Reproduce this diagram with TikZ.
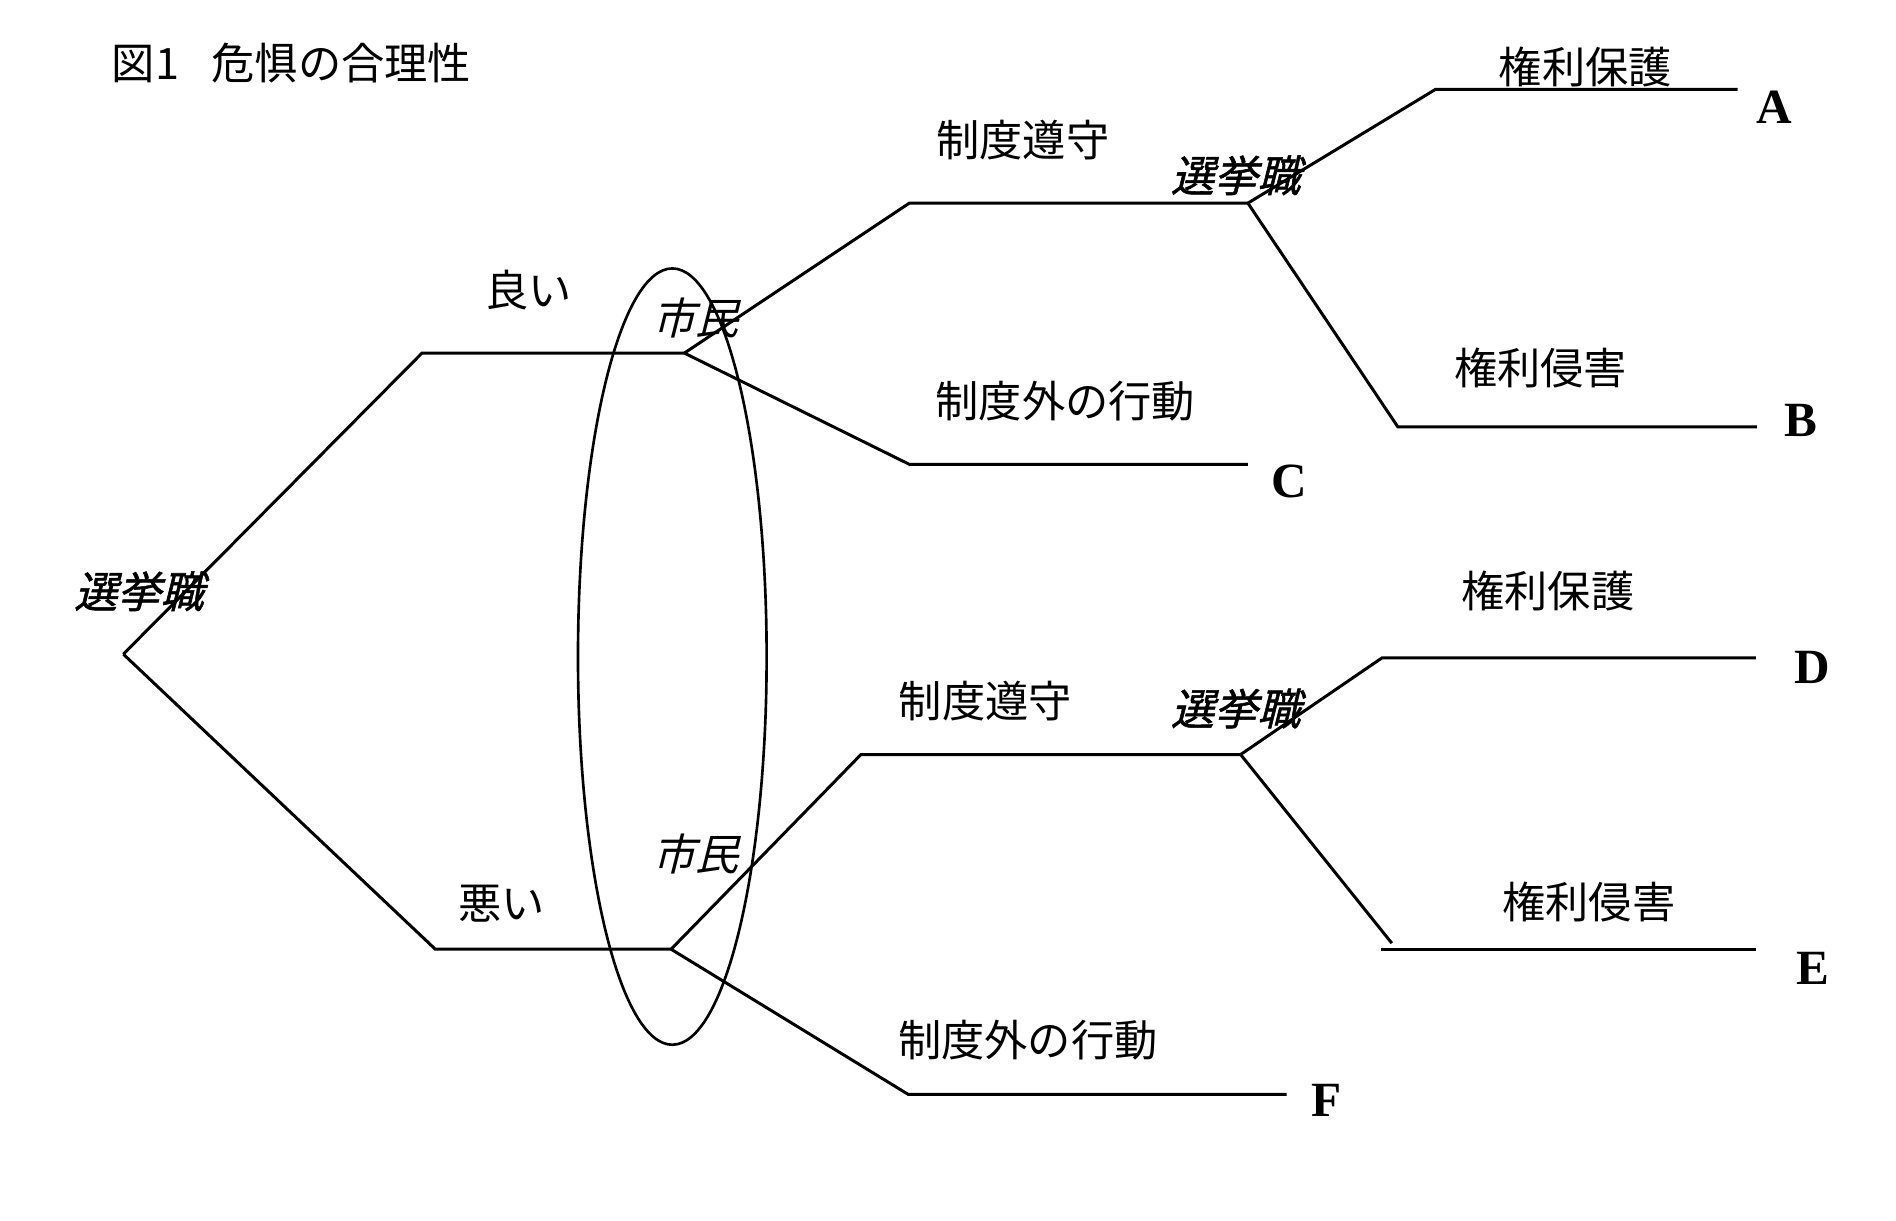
\documentclass[tikz,border=0pt]{standalone}
\usepackage{fontspec}
\newfontfamily\jp{Noto Sans CJK JP}
\newfontfamily\jpit[FakeSlant=0.25]{Noto Sans CJK JP}
\newfontfamily\jpitb[FakeSlant=0.25,FakeBold=1.2]{Noto Sans CJK JP}
\newfontfamily\lat{Liberation Serif}

\begin{document}
\begin{tikzpicture}[
    x=0.012092cm, y=-0.012092cm,
    branch/.style={draw=black, line width=0.85pt},
    lbl/.style={font=\jp\fontsize{12.3}{14}\selectfont, inner sep=0pt},
    citizen/.style={font=\jpit\fontsize{12.3}{14}\selectfont, inner sep=0pt},
    elected/.style={font=\jpitb\fontsize{12.3}{14}\selectfont, inner sep=0pt},
    outcome/.style={font=\lat\bfseries\fontsize{14}{16}\selectfont, inner sep=0pt},
]
\useasboundingbox (0,0) rectangle (1568,1009);

% Tytul
\node[lbl, anchor=west] (title) at (92,52) {図1\hspace{0.75em}危惧の合理性};

% Wierzcholki
\coordinate (root) at (102,541);
\coordinate (g1) at (349,292);
\coordinate (cit1) at (566,292);
\coordinate (b1) at (360,785);
\coordinate (cit2) at (555,785);
\coordinate (k1) at (752,168);
\coordinate (el1) at (1032,168);
\coordinate (o1) at (752,384);
\coordinate (endC) at (1032,384);
\coordinate (p1) at (1187,74);
\coordinate (endA) at (1437,74);
\coordinate (v1) at (1156,353);
\coordinate (endB) at (1453,353);
\coordinate (k2) at (712,624);
\coordinate (el2) at (1026,624);
\coordinate (o2) at (751,905);
\coordinate (endF) at (1064,905);
\coordinate (p2) at (1143,544);
\coordinate (endD) at (1452,544);
\coordinate (v2) at (1151,780);
\coordinate (v2s) at (1142,785);
\coordinate (endE) at (1452,785);
\coordinate (grp) at (556,543);

% Etykiety
\node[elected] (e0) at (115,489) {選挙職};
\node[lbl] (good) at (437,240) {良い};
\node[lbl] (bad) at (415,747) {悪い};
\node[citizen] (c1) at (575,263) {市民};
\node[citizen] (c2) at (575,706) {市民};
\node[lbl] (keep1) at (846,116) {制度遵守};
\node[lbl] (out1) at (881,332) {制度外の行動};
\node[elected] (e1) at (1022,145) {選挙職};
\node[lbl] (prot1) at (1311,55) {権利保護};
\node[lbl] (viol1) at (1274,304) {権利侵害};
\node[lbl] (keep2) at (815,580) {制度遵守};
\node[lbl] (out2) at (850,860) {制度外の行動};
\node[elected] (e2) at (1022,586) {選挙職};
\node[lbl] (prot2) at (1280,489) {権利保護};
\node[lbl] (viol2) at (1314,746) {権利侵害};
\node[outcome] (A) at (1467,89) {A};
\node[outcome] (B) at (1489,348) {B};
\node[outcome] (C) at (1066,398) {C};
\node[outcome] (D) at (1499,552) {D};
\node[outcome] (E) at (1499,801) {E};
\node[outcome] (F) at (1097,910) {F};

% Galezie
\draw[branch] (root) -- (g1) -- (cit1);
\draw[branch] (root) -- (b1) -- (cit2);
\draw[branch] (cit1) -- (k1) -- (el1);
\draw[branch] (cit1) -- (o1) -- (endC);
\draw[branch] (el1) -- (p1) -- (endA);
\draw[branch] (el1) -- (v1) -- (endB);
\draw[branch] (cit2) -- (k2) -- (el2);
\draw[branch] (cit2) -- (o2) -- (endF);
\draw[branch] (el2) -- (p2) -- (endD);
\draw[branch] (el2) -- (v2);
\draw[branch] (v2s) -- (endE);

% Zbior informacyjny
\draw[line width=0.75pt] (grp) ellipse [x radius=78, y radius=321];

\end{tikzpicture}
\end{document}
